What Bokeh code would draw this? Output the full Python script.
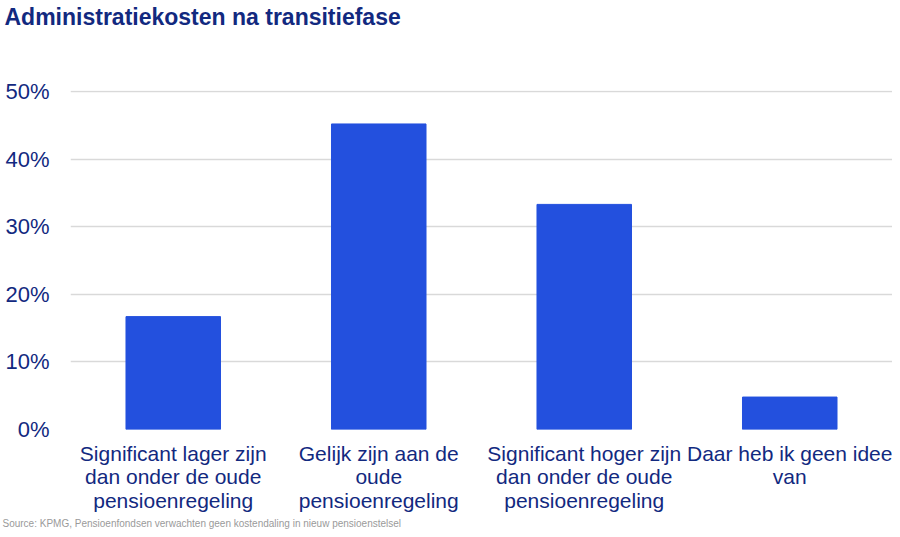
from bokeh.plotting import figure
from bokeh.models import FactorRange, Range1d, FixedTicker, NumeralTickFormatter, Title
from bokeh.embed import file_html
from bokeh.resources import INLINE

categories = [
    "Significant lager zijn\ndan onder de oude\npensioenregeling",
    "Gelijk zijn aan de\noude\npensioenregeling",
    "Significant hoger zijn\ndan onder de oude\npensioenregeling",
    "Daar heb ik geen idee\nvan",
]
values = [0.167, 0.452, 0.333, 0.048]
y_ticks = [0.0, 0.1, 0.2, 0.3, 0.4, 0.5]
title_text = "Administratiekosten na transitiefase"
source_text = "Source: KPMG, Pensioenfondsen verwachten geen kostendaling in nieuw pensioenstelsel"

FONT = "Liberation Sans"
NAVY = "#12297F"

p = figure(
    width=892, height=529,
    x_range=FactorRange(*categories, range_padding=0),
    y_range=Range1d(0, 0.5015),
    output_backend="svg", toolbar_location=None,
    min_border_left=70, min_border_right=0, min_border_top=0, min_border_bottom=0,
)
p.outline_line_color = None

p.vbar(x=categories, top=values, width=0.46, fill_color="#2350DE", line_color="#2350DE")

p.yaxis.ticker = FixedTicker(ticks=y_ticks)
p.yaxis.formatter = NumeralTickFormatter(format="0%")
p.yaxis.axis_line_color = None
p.yaxis.major_tick_line_color = None
p.yaxis.minor_tick_line_color = None
p.yaxis.major_tick_out = 0
p.yaxis.major_label_text_font = FONT
p.yaxis.major_label_text_font_size = "22px"
p.yaxis.major_label_text_color = NAVY
p.yaxis.major_label_standoff = 21

p.xaxis.axis_line_color = None
p.xaxis.major_tick_line_color = None
p.xaxis.major_tick_out = 0
p.xaxis.major_label_text_font = FONT
p.xaxis.major_label_text_font_size = "21px"
p.xaxis.major_label_text_line_height = 1.03
p.xaxis.major_label_text_color = NAVY
p.xaxis.major_label_standoff = 12

p.xgrid.grid_line_color = None
p.ygrid.grid_line_color = "#D9D9D9"
p.ygrid.grid_line_width = 1.5
p.ygrid.ticker = FixedTicker(ticks=y_ticks)

p.add_layout(Title(text=source_text, align="left", text_font=FONT, text_font_size="10px",
                   text_font_style="normal", text_color="#9A9A9A", offset=-68, standoff=2), "below")
# spacer between frame and title (nearest to the frame)
p.add_layout(Title(text=" ", text_font_size="1px", standoff=57), "above")
p.add_layout(Title(text=title_text, align="left", text_font=FONT, text_font_size="23px",
                   text_font_style="bold", text_color=NAVY, offset=-66, standoff=2), "above")

open("out.html", "w").write(file_html(p, INLINE))
